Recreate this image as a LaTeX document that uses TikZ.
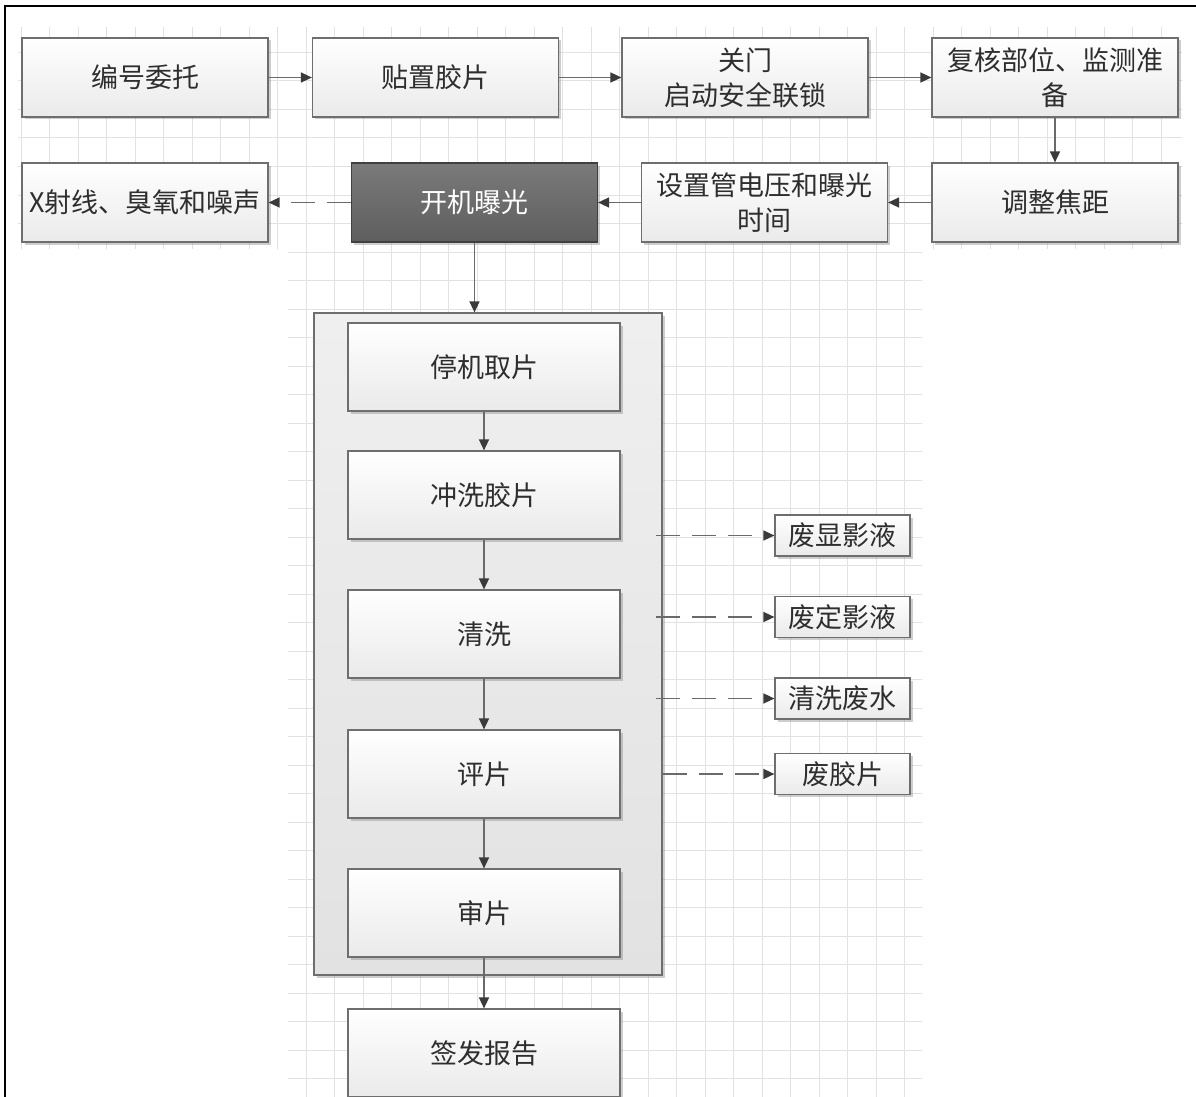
\documentclass[tikz,border=0pt]{standalone}
\usepackage{fontspec}
\setmainfont{Noto Sans CJK SC}
\usetikzlibrary{arrows.meta,shadows}
\definecolor{gridc}{HTML}{E2E2E2}
\definecolor{boxborder}{HTML}{6E6E6E}
\definecolor{boxbot}{HTML}{EAEAEA}
\definecolor{textc}{HTML}{2E2E2E}
\definecolor{linec}{HTML}{6A6A6A}
\definecolor{tipc}{HTML}{3A3A3A}
\definecolor{darktop}{HTML}{7A7A7A}
\definecolor{darkbot}{HTML}{5E5E5E}
\definecolor{contop}{HTML}{EFEFEF}
\definecolor{conbot}{HTML}{E2E2E2}
\newcommand{\bigfs}{\fontsize{27pt}{35pt}\selectfont}
\begin{document}
\begin{tikzpicture}[x=1pt,y=-1pt,
  gridline/.style={draw=gridc,line width=1pt},
  shad/.style={drop shadow={shadow xshift=2.5pt,shadow yshift=-2.5pt,opacity=.35,fill=black!55}},
  procbox/.style={draw=boxborder,line width=1.2pt,top color=white,bottom color=boxbot,shad,
    minimum width=246pt,minimum height=79pt,inner sep=0pt,text=textc,font=\bigfs,align=center,text width=240pt},
  innerbox/.style={procbox,minimum width=272pt,minimum height=88pt,text width=262pt},
  sidebox/.style={procbox,minimum width=135pt,minimum height=41pt,text width=133pt},
  darkbox/.style={procbox,draw=black!75,top color=darktop,bottom color=darkbot,text=white},
  container/.style={draw=boxborder,line width=1.2pt,top color=contop,bottom color=conbot,shad,
    minimum width=348pt,minimum height=662pt,inner sep=0pt},
  arr/.style={draw=linec,line width=1.5pt,-{Triangle[length=11pt,width=10pt,fill=tipc,color=tipc]}},
  darr/.style={arr,dash pattern=on 24pt off 12pt}
]
\useasboundingbox (0,0) rectangle (1196,1097);
\fill[white] (0,0) rectangle (1196,1097);
% grid
\begin{scope}
\clip (18,28) rectangle (1182,248);
\foreach \i in {0,...,41} \draw[gridline] ({21+28.5*\i},0) -- ({21+28.5*\i},260);
\foreach \i in {0,...,8} \draw[gridline] (0,{24+28.5*\i}) -- (1196,{24+28.5*\i});
\end{scope}
\begin{scope}
\clip (288,248) rectangle (922,1097);
\foreach \i in {9,...,32} \draw[gridline] ({21+28.5*\i},240) -- ({21+28.5*\i},1100);
\foreach \i in {7,...,38} \draw[gridline] (280,{24+28.5*\i}) -- (930,{24+28.5*\i});
\end{scope}
% frame
\draw[black,line width=2pt] (5,1097) -- (5,6) -- (1196,6);
% row 1
\node[procbox] (a1) at (145,77.5) {编号委托};
\node[procbox] (a2) at (435.5,77.5) {贴置胶片};
\node[procbox] (a3) at (745,77.5) {关门\\启动安全联锁};
\node[procbox] (a4) at (1055,77.5) {复核部位、监测准\\备};
% row 2
\node[procbox] (b1) at (145,202.5) {X射线、臭氧和噪声};
\node[darkbox] (b2) at (474.5,202.5) {开机曝光};
\node[procbox] (b3) at (764.5,202.5) {设置管电压和曝光\\时间};
\node[procbox] (b4) at (1055,202.5) {调整焦距};
% container
\node[container] (c) at (488,644) {};
\node[innerbox] (p1) at (484,367) {停机取片};
\node[innerbox] (p2) at (484,495) {冲洗胶片};
\node[innerbox] (p3) at (484,634) {清洗};
\node[innerbox] (p4) at (484,774) {评片};
\node[innerbox] (p5) at (484,913) {审片};
\node[innerbox] (r) at (484,1053) {签发报告};
% side outputs
\node[sidebox] (s1) at (842.5,535.5) {废显影液};
\node[sidebox] (s2) at (842.5,617) {废定影液};
\node[sidebox] (s3) at (842.5,698.5) {清洗废水};
\node[sidebox] (s4) at (842.5,774) {废胶片};
% connectors
\draw[arr] (a1) -- (a2);
\draw[arr] (a2) -- (a3);
\draw[arr] (a3) -- (a4);
\draw[arr] (a4) -- (b4);
\draw[arr] (b4) -- (b3);
\draw[arr] (b3) -- (b2);
\draw[darr] (b2) -- (b1);
\draw[arr] (b2.south) -- (b2.south |- c.north);
\draw[arr] (p1) -- (p2);
\draw[arr] (p2) -- (p3);
\draw[arr] (p3) -- (p4);
\draw[arr] (p4) -- (p5);
\draw[arr] (p5) -- (r);
\draw[darr] ([xshift=-7pt]c.east |- s1.west) -- (s1.west);
\draw[darr] ([xshift=-7pt]c.east |- s2.west) -- (s2.west);
\draw[darr] ([xshift=-7pt]c.east |- s3.west) -- (s3.west);
\draw[darr] (c.east |- s4.west) -- (s4.west);
\end{tikzpicture}
\end{document}
